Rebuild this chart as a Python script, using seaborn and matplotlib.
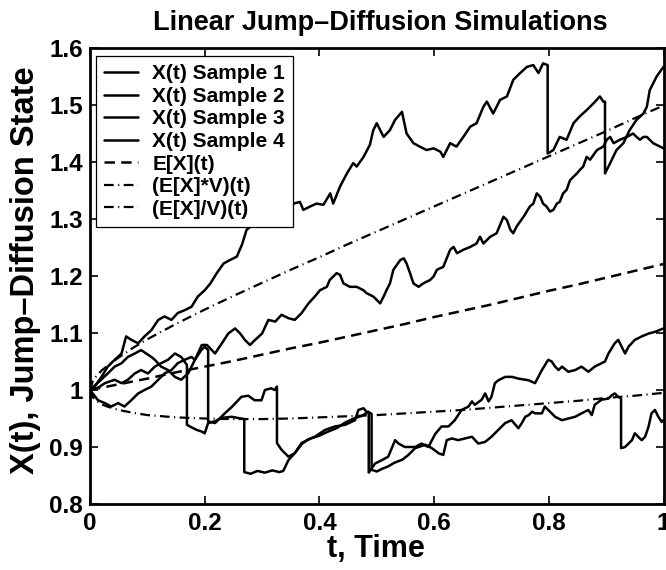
import matplotlib
matplotlib.use("Agg")
import matplotlib.pyplot as plt
import pandas as pd
import seaborn as sns

# ---------------- data ----------------
# Sample path 1 (repeated time values mark jumps)
t1 = [0.000, 0.008, 0.020, 0.031, 0.043, 0.055, 0.063, 0.072, 0.084, 0.095, 0.107, 0.119,
      0.130, 0.142, 0.153, 0.165, 0.177, 0.188, 0.200, 0.210, 0.221, 0.233, 0.244, 0.256,
      0.265, 0.273, 0.290, 0.310, 0.330, 0.345, 0.355, 0.366, 0.372, 0.384, 0.395, 0.407,
      0.419, 0.424, 0.436, 0.448, 0.459, 0.465, 0.477, 0.488, 0.494, 0.500, 0.512, 0.523,
      0.532, 0.544, 0.552, 0.564, 0.575, 0.587, 0.599, 0.611, 0.616, 0.628, 0.639, 0.651,
      0.663, 0.674, 0.686, 0.692, 0.703, 0.715, 0.727, 0.738, 0.750, 0.762, 0.773, 0.782,
      0.790, 0.798, 0.798, 0.808, 0.819, 0.831, 0.843, 0.854, 0.866, 0.878, 0.889, 0.895,
      0.898, 0.898, 0.907, 0.918, 0.930, 0.941, 0.953, 0.965, 0.971, 0.976, 0.988, 1.000]
x1 = [1.000, 1.006, 1.023, 1.041, 1.053, 1.064, 1.094, 1.088, 1.082, 1.094, 1.105, 1.123,
      1.129, 1.123, 1.135, 1.140, 1.146, 1.164, 1.175, 1.187, 1.205, 1.222, 1.228, 1.234,
      1.255, 1.281, 1.295, 1.305, 1.318, 1.322, 1.327, 1.330, 1.316, 1.322, 1.327, 1.325,
      1.345, 1.327, 1.357, 1.380, 1.398, 1.392, 1.409, 1.430, 1.456, 1.468, 1.444, 1.456,
      1.474, 1.488, 1.450, 1.433, 1.427, 1.421, 1.424, 1.418, 1.409, 1.433, 1.427, 1.444,
      1.462, 1.468, 1.497, 1.506, 1.485, 1.509, 1.515, 1.544, 1.556, 1.567, 1.570, 1.556,
      1.573, 1.570, 1.415, 1.421, 1.444, 1.439, 1.468, 1.480, 1.491, 1.503, 1.515, 1.506,
      1.506, 1.380, 1.398, 1.421, 1.433, 1.456, 1.474, 1.485, 1.497, 1.526, 1.550, 1.567]

# Sample path 2
t2 = [0.000, 0.014, 0.026, 0.037, 0.049, 0.060, 0.072, 0.084, 0.095, 0.107, 0.119, 0.130,
      0.142, 0.153, 0.165, 0.177, 0.183, 0.195, 0.204, 0.218, 0.230, 0.241, 0.253, 0.262,
      0.270, 0.279, 0.288, 0.300, 0.311, 0.323, 0.334, 0.346, 0.357, 0.369, 0.381, 0.392,
      0.401, 0.413, 0.418, 0.424, 0.430, 0.436, 0.442, 0.453, 0.465, 0.477, 0.482, 0.494,
      0.500, 0.506, 0.512, 0.517, 0.523, 0.529, 0.541, 0.547, 0.552, 0.558, 0.564, 0.573,
      0.581, 0.593, 0.599, 0.605, 0.616, 0.628, 0.634, 0.640, 0.651, 0.663, 0.674, 0.680,
      0.686, 0.692, 0.698, 0.709, 0.721, 0.727, 0.733, 0.738, 0.744, 0.756, 0.767, 0.773,
      0.779, 0.785, 0.790, 0.796, 0.802, 0.808, 0.814, 0.819, 0.825, 0.831, 0.837, 0.843,
      0.849, 0.854, 0.860, 0.866, 0.872, 0.884, 0.895, 0.901, 0.907, 0.913, 0.924, 0.936,
      0.947, 0.953, 0.959, 0.965, 0.971, 0.976, 0.982, 0.988, 1.000]
x2 = [1.000, 0.982, 0.977, 0.971, 0.977, 0.971, 0.982, 0.994, 1.000, 1.006, 1.018, 1.029,
      1.035, 1.047, 1.053, 1.058, 1.053, 1.079, 1.079, 1.064, 1.082, 1.099, 1.108, 1.099,
      1.088, 1.079, 1.088, 1.099, 1.123, 1.120, 1.132, 1.126, 1.123, 1.135, 1.152, 1.164,
      1.175, 1.181, 1.193, 1.199, 1.205, 1.202, 1.187, 1.181, 1.181, 1.175, 1.170, 1.164,
      1.158, 1.152, 1.164, 1.175, 1.187, 1.211, 1.228, 1.231, 1.222, 1.205, 1.187, 1.181,
      1.187, 1.193, 1.199, 1.211, 1.216, 1.246, 1.251, 1.240, 1.246, 1.251, 1.257, 1.269,
      1.257, 1.263, 1.269, 1.275, 1.304, 1.298, 1.281, 1.275, 1.287, 1.304, 1.322, 1.327,
      1.345, 1.339, 1.327, 1.322, 1.313, 1.316, 1.327, 1.330, 1.345, 1.351, 1.368, 1.374,
      1.380, 1.386, 1.392, 1.409, 1.404, 1.421, 1.427, 1.439, 1.444, 1.433, 1.439, 1.444,
      1.450, 1.444, 1.439, 1.444, 1.444, 1.439, 1.433, 1.430, 1.424]

# Sample path 3
t3 = [0.000, 0.014, 0.026, 0.043, 0.055, 0.066, 0.078, 0.089, 0.101, 0.113, 0.124, 0.136,
      0.148, 0.159, 0.169, 0.169, 0.176, 0.186, 0.195, 0.200, 0.206, 0.218, 0.229, 0.247,
      0.258, 0.269, 0.269, 0.280, 0.292, 0.305, 0.318, 0.330, 0.337, 0.346, 0.357, 0.369,
      0.380, 0.392, 0.410, 0.427, 0.445, 0.462, 0.468, 0.477, 0.482, 0.486, 0.486, 0.497,
      0.509, 0.520, 0.532, 0.538, 0.549, 0.567, 0.578, 0.590, 0.602, 0.613, 0.625, 0.636,
      0.648, 0.660, 0.666, 0.671, 0.683, 0.689, 0.695, 0.700, 0.706, 0.712, 0.724, 0.736,
      0.747, 0.765, 0.776, 0.788, 0.799, 0.805, 0.811, 0.817, 0.823, 0.834, 0.846, 0.857,
      0.869, 0.880, 0.892, 0.898, 0.904, 0.915, 0.921, 0.927, 0.933, 0.939, 0.950, 0.962,
      0.974, 0.985, 1.000]
x3 = [1.000, 1.004, 1.012, 1.018, 1.012, 1.018, 1.029, 1.035, 1.029, 1.041, 1.047, 1.053,
      1.064, 1.058, 1.044, 0.939, 0.935, 0.930, 0.927, 0.924, 0.942, 0.945, 0.951, 0.953,
      0.951, 0.949, 0.856, 0.853, 0.858, 0.855, 0.859, 0.856, 0.858, 0.877, 0.889, 0.905,
      0.913, 0.918, 0.930, 0.936, 0.939, 0.947, 0.965, 0.968, 0.962, 0.960, 0.855, 0.871,
      0.877, 0.883, 0.912, 0.906, 0.900, 0.900, 0.906, 0.900, 0.923, 0.936, 0.936, 0.947,
      0.965, 0.971, 0.980, 0.974, 0.983, 0.994, 0.980, 0.988, 1.012, 1.017, 1.023, 1.023,
      1.020, 1.017, 1.012, 1.035, 1.053, 1.050, 1.041, 1.035, 1.041, 1.032, 1.035, 1.041,
      1.032, 1.041, 1.047, 1.050, 1.064, 1.082, 1.088, 1.076, 1.064, 1.076, 1.088, 1.094,
      1.099, 1.102, 1.108]

# Sample path 4
t4 = [0.000, 0.015, 0.031, 0.043, 0.055, 0.066, 0.078, 0.089, 0.098, 0.107, 0.113, 0.124,
      0.136, 0.148, 0.159, 0.171, 0.183, 0.194, 0.200, 0.206, 0.206, 0.218, 0.235, 0.247,
      0.264, 0.276, 0.287, 0.299, 0.305, 0.316, 0.322, 0.326, 0.326, 0.334, 0.346, 0.357,
      0.369, 0.385, 0.400, 0.415, 0.430, 0.445, 0.460, 0.475, 0.485, 0.491, 0.491, 0.500,
      0.510, 0.520, 0.530, 0.545, 0.555, 0.567, 0.585, 0.596, 0.608, 0.616, 0.622, 0.631,
      0.642, 0.654, 0.666, 0.677, 0.689, 0.700, 0.706, 0.718, 0.724, 0.735, 0.747, 0.753,
      0.759, 0.765, 0.771, 0.776, 0.788, 0.793, 0.799, 0.811, 0.823, 0.834, 0.846, 0.857,
      0.869, 0.875, 0.880, 0.892, 0.904, 0.910, 0.915, 0.921, 0.926, 0.926, 0.933, 0.945,
      0.950, 0.956, 0.962, 0.968, 0.974, 0.979, 0.985, 0.991, 0.997, 1.000]
x4 = [1.000, 1.014, 1.029, 1.041, 1.047, 1.058, 1.064, 1.070, 1.064, 1.058, 1.053, 1.041,
      1.035, 1.023, 1.018, 1.029, 1.053, 1.070, 1.076, 1.070, 0.945, 0.942, 0.959, 0.970,
      0.988, 0.990, 0.982, 0.982, 1.000, 1.003, 1.000, 1.006, 0.907, 0.895, 0.883, 0.889,
      0.907, 0.915, 0.920, 0.927, 0.933, 0.943, 0.950, 0.955, 0.962, 0.958, 0.860, 0.857,
      0.862, 0.866, 0.872, 0.878, 0.886, 0.898, 0.904, 0.898, 0.889, 0.886, 0.912, 0.915,
      0.912, 0.915, 0.918, 0.906, 0.909, 0.918, 0.924, 0.936, 0.942, 0.947, 0.933, 0.942,
      0.953, 0.956, 0.962, 0.959, 0.959, 0.971, 0.965, 0.953, 0.947, 0.950, 0.953, 0.959,
      0.965, 0.956, 0.974, 0.983, 0.985, 0.991, 0.994, 0.988, 0.985, 0.898, 0.900, 0.912,
      0.924, 0.918, 0.912, 0.918, 0.936, 0.959, 0.965, 0.953, 0.944, 0.947]

# Mean and the mean scaled up / down by the spread factor V
t_mom = [0.000, 0.005, 0.010, 0.020, 0.030, 0.050, 0.075, 0.100, 0.150, 0.200, 0.250, 0.300,
         0.350, 0.400, 0.450, 0.500, 0.550, 0.600, 0.650, 0.700, 0.750, 0.800, 0.850, 0.900,
         0.950, 1.000]
mean_x = [1.000, 1.001, 1.002, 1.004, 1.006, 1.010, 1.015, 1.020, 1.031, 1.041, 1.051, 1.062,
          1.073, 1.083, 1.094, 1.105, 1.116, 1.128, 1.139, 1.150, 1.162, 1.174, 1.185, 1.197,
          1.209, 1.221]
mean_times_v = [1.000, 1.016, 1.023, 1.034, 1.042, 1.057, 1.074, 1.089, 1.116, 1.141, 1.165,
                1.188, 1.211, 1.233, 1.256, 1.278, 1.300, 1.322, 1.344, 1.366, 1.388, 1.410,
                1.432, 1.454, 1.477, 1.499]
mean_over_v = [1.000, 0.987, 0.982, 0.975, 0.971, 0.965, 0.960, 0.956, 0.952, 0.950, 0.949,
               0.949, 0.950, 0.952, 0.954, 0.956, 0.959, 0.962, 0.965, 0.969, 0.973, 0.977,
               0.981, 0.986, 0.990, 0.995]

labels = ["X(t) Sample 1", "X(t) Sample 2", "X(t) Sample 3", "X(t) Sample 4",
          "E[X](t)", "(E[X]*V)(t)", "(E[X]/V)(t)"]
x_ticks = [0, 0.2, 0.4, 0.6, 0.8, 1.0]
x_tick_labels = ["0", "0.2", "0.4", "0.6", "0.8", "1"]
y_ticks = [0.8, 0.9, 1.0, 1.1, 1.2, 1.3, 1.4, 1.5, 1.6]
y_tick_labels = ["0.8", "0.9", "1", "1.1", "1.2", "1.3", "1.4", "1.5", "1.6"]

# ---------------- style ----------------
sns.set_theme(style="ticks")
plt.rcParams["font.family"] = ["Liberation Sans", "DejaVu Sans"]
plt.rcParams["font.weight"] = "bold"
plt.rcParams["text.color"] = "black"
plt.rcParams["axes.labelcolor"] = "black"
plt.rcParams["xtick.color"] = "black"
plt.rcParams["ytick.color"] = "black"
plt.rcParams["lines.scale_dashes"] = False

W, H = 666, 570
fig = plt.figure(figsize=(W / 100, H / 100), dpi=100)
ax = fig.add_axes([90 / W, 66 / H, 573.5 / W, 456 / H])


def draw(t, x, label, lw, dashes=None):
    df = pd.DataFrame({"t": t, "X": x})
    sns.lineplot(data=df, x="t", y="X", sort=False, estimator=None, ax=ax,
                 color="black", linewidth=lw, label=label, legend=False)
    line = ax.lines[-1]
    line.set_solid_joinstyle("round")
    if dashes is not None:
        line.set_dashes(dashes)
        line.set_dash_capstyle("butt")
    return line


handles = []
for t, x, lab in [(t1, x1, labels[0]), (t2, x2, labels[1]),
                  (t3, x3, labels[2]), (t4, x4, labels[3])]:
    handles.append(draw(t, x, lab, 1.8))
handles.append(draw(t_mom, mean_x, labels[4], 1.8, dashes=[7.5, 4.5]))
handles.append(draw(t_mom, mean_times_v, labels[5], 1.6, dashes=[7.0, 3.2, 0.8, 3.2]))
handles.append(draw(t_mom, mean_over_v, labels[6], 1.6, dashes=[7.0, 3.2, 0.8, 3.2]))

ax.set_xlim(0, 1)
ax.set_ylim(0.8, 1.6)
ax.set_xticks(x_ticks)
ax.set_xticklabels(x_tick_labels)
ax.set_yticks(y_ticks)
ax.set_yticklabels(y_tick_labels)
ax.set_xlabel("")
ax.set_ylabel("")
ax.tick_params(direction="in", length=6, width=1.2, top=True, right=True,
               labelsize=17.5, colors="black")
ax.tick_params(axis="x", pad=6)
ax.tick_params(axis="y", pad=5)
for s in ax.spines.values():
    s.set_visible(True)
    s.set_linewidth(2.0)
    s.set_color("black")

leg = ax.legend(handles=handles, labels=labels, loc="upper left",
                bbox_to_anchor=(96 / W, 1 - 56 / H), bbox_transform=fig.transFigure,
                borderaxespad=0, fancybox=False, framealpha=1, edgecolor="black",
                fontsize=15, handlelength=1.6, handletextpad=0.7,
                labelspacing=0.17, borderpad=0.4)
leg.get_frame().set_linewidth(0.9)
leg.set_zorder(10)
for txt in leg.get_texts():
    txt.set_color("black")

fig.text(380 / W, 1 - 30 / H, "Linear Jump\u2013Diffusion Simulations",
         ha="center", va="baseline", fontsize=19.5, fontweight="bold", color="black")
fig.text(376 / W, 1 - 549 / H, "t, Time", ha="center", va="center",
         fontsize=22, fontweight="bold", color="black")
fig.text(26 / W, 1 - 270 / H, "X(t), Jump\u2013Diffusion State", ha="center",
         va="center", rotation=90, fontsize=23.5, fontweight="bold", color="black")

fig.savefig("out.png", dpi=100)
